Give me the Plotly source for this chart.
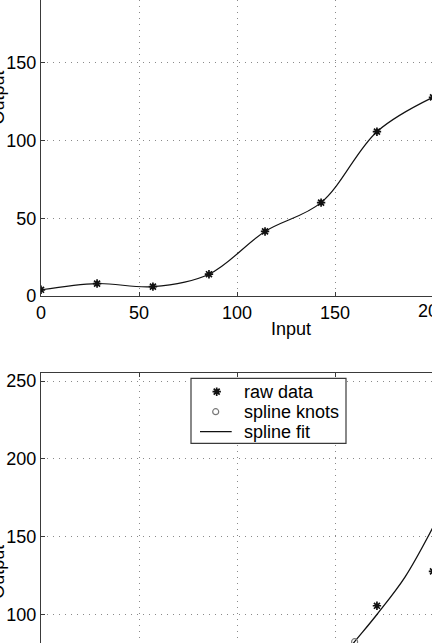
import plotly.graph_objects as go

# ---------------- data ----------------
x_raw = [0, 28.6, 57.1, 85.7, 114.3, 142.9, 171.4, 200]
y_raw = [4, 8, 6, 14, 41.5, 60, 105.6, 127.7]
fit_x = [150, 160, 171.4, 185.7, 200, 210]
fit_y = [67, 82.5, 100, 124, 156, 181]
knot_x = [160]
knot_y = [82.5]
x_ticks = [0, 50, 100, 150, 200]
y_ticks = [0, 50, 100, 150, 200, 250]
legend_labels = ["raw data", "spline knots", "spline fit"]
x_label = "Input"
y_label = "Output"

# ---------------- layout constants (pixels) ----------------
W, H = 432, 643
X0_PX = 41.0          # pixel of x = 0
SX = 1.96             # px per x unit
SY = 1.556            # px per y unit
TOP_AX_BOTTOM = 296.0 # pixel of y = 0 in top axes
BOT_AX_TOP = 373.3    # pixel of top border in bottom axes
BOT_TOP_VAL = 255

x_range = [0, (W - X0_PX) / SX]
top_y_range = [0, TOP_AX_BOTTOM / SY]
bot_y_range = [BOT_TOP_VAL - (H - BOT_AX_TOP) / SY, BOT_TOP_VAL]

FONT = "Liberation Sans, Arial, Helvetica, sans-serif"
INK = "#111111"
AXC = "#3a3a3a"
GRID = "#8a8a8a"
STAR = dict(symbol="asterisk-open", size=7, color=INK, line=dict(width=1.7, color=INK))
KNOT = dict(symbol="circle-open", size=6, color="#777777", line=dict(width=1.2, color="#777777"))


def px2x(px):
    return (px - X0_PX) / SX


def py2y2(py):
    return BOT_TOP_VAL - (py - BOT_AX_TOP) / SY


fig = go.Figure()

# top: interpolating spline + raw data
fig.add_trace(go.Scatter(x=x_raw, y=y_raw, mode="lines",
                         line=dict(shape="spline", smoothing=1.0, color=INK, width=1.2),
                         xaxis="x", yaxis="y", showlegend=False, hoverinfo="skip"))
fig.add_trace(go.Scatter(x=x_raw, y=y_raw, mode="markers", marker=STAR,
                         xaxis="x", yaxis="y", showlegend=False))

# bottom: spline fit, knots and raw data
fig.add_trace(go.Scatter(x=fit_x, y=fit_y, mode="lines",
                         line=dict(shape="spline", color=INK, width=1.3),
                         xaxis="x2", yaxis="y2", showlegend=False, hoverinfo="skip"))
fig.add_trace(go.Scatter(x=knot_x, y=knot_y, mode="markers", marker=KNOT,
                         xaxis="x2", yaxis="y2", showlegend=False))
fig.add_trace(go.Scatter(x=x_raw, y=y_raw, mode="markers", marker=STAR,
                         xaxis="x2", yaxis="y2", showlegend=False))

# legend (drawn manually to match MATLAB legend box)
LEG_L, LEG_R, LEG_T, LEG_B = 191, 346, 378.3, 443.3
ROWS = [391.7, 411.7, 431.7]
fig.add_shape(type="rect", xref="x2", yref="y2", layer="between",
              x0=px2x(LEG_L), x1=px2x(LEG_R), y0=py2y2(LEG_B), y1=py2y2(LEG_T),
              line=dict(color=AXC, width=1.2), fillcolor="white")
fig.add_trace(go.Scatter(x=[px2x(216.7)], y=[py2y2(ROWS[0])], mode="markers", marker=STAR,
                         xaxis="x2", yaxis="y2", showlegend=False, hoverinfo="skip"))
fig.add_trace(go.Scatter(x=[px2x(215.7)], y=[py2y2(ROWS[1])], mode="markers", marker=KNOT,
                         xaxis="x2", yaxis="y2", showlegend=False, hoverinfo="skip"))
fig.add_trace(go.Scatter(x=[px2x(200), px2x(231.7)], y=[py2y2(ROWS[2])] * 2, mode="lines",
                         line=dict(color=INK, width=1.3),
                         xaxis="x2", yaxis="y2", showlegend=False, hoverinfo="skip"))

annotations = []
for lab, row in zip(legend_labels, ROWS):
    annotations.append(dict(text=lab, xref="paper", yref="paper", x=242 / W, y=(H - row) / H,
                            xanchor="left", yanchor="middle", showarrow=False,
                            font=dict(family=FONT, size=18, color="black")))

# axis labels
annotations.append(dict(text=x_label, xref="x", yref="paper", x=127.5, y=(H - 329) / H,
                        xanchor="center", yanchor="middle", showarrow=False,
                        font=dict(family=FONT, size=18, color="black")))
annotations.append(dict(text=y_label, xref="paper", yref="y", x=10 / W, y=127.5,
                        xanchor="right", yanchor="middle", textangle=-90, showarrow=False,
                        font=dict(family=FONT, size=18, color="black")))
annotations.append(dict(text=y_label, xref="paper", yref="y2", x=10 / W, y=127.5,
                        xanchor="right", yanchor="middle", textangle=-90, showarrow=False,
                        font=dict(family=FONT, size=18, color="black")))
# partially visible last x tick label of the top axes
annotations.append(dict(text=str(x_ticks[-1]), xref="paper", yref="paper",
                        x=(X0_PX + x_ticks[-1] * SX) / W, y=(H - 311) / H,
                        xanchor="center", yanchor="middle", showarrow=False,
                        font=dict(family=FONT, size=18, color="black")))

axis_common = dict(showgrid=True, gridcolor=GRID, gridwidth=1, griddash="1px,5px",
                   zeroline=False, showline=True, linecolor=AXC, linewidth=1.3,
                   ticks="inside", ticklen=4, tickcolor=AXC, tickwidth=1,
                   tickfont=dict(family=FONT, size=18, color="black"),
                   automargin=False, fixedrange=True)

fig.update_layout(
    width=W, height=H,
    margin=dict(l=0, r=0, t=0, b=0, pad=0),
    paper_bgcolor="white", plot_bgcolor="white",
    showlegend=False,
    xaxis=dict(axis_common, domain=[X0_PX / W, 1], range=x_range, tickvals=x_ticks,
               anchor="y", side="bottom"),
    yaxis=dict(axis_common, domain=[(H - TOP_AX_BOTTOM) / H, 1], range=top_y_range,
               tickvals=y_ticks, anchor="x", side="left"),
    xaxis2=dict(axis_common, domain=[X0_PX / W, 1], range=x_range, tickvals=x_ticks,
                anchor="y2", side="top", showticklabels=False),
    yaxis2=dict(axis_common, domain=[0, (H - BOT_AX_TOP) / H], range=bot_y_range,
                tickvals=y_ticks, anchor="x2", side="left"),
    annotations=annotations,
)

fig.write_html("out.html")
